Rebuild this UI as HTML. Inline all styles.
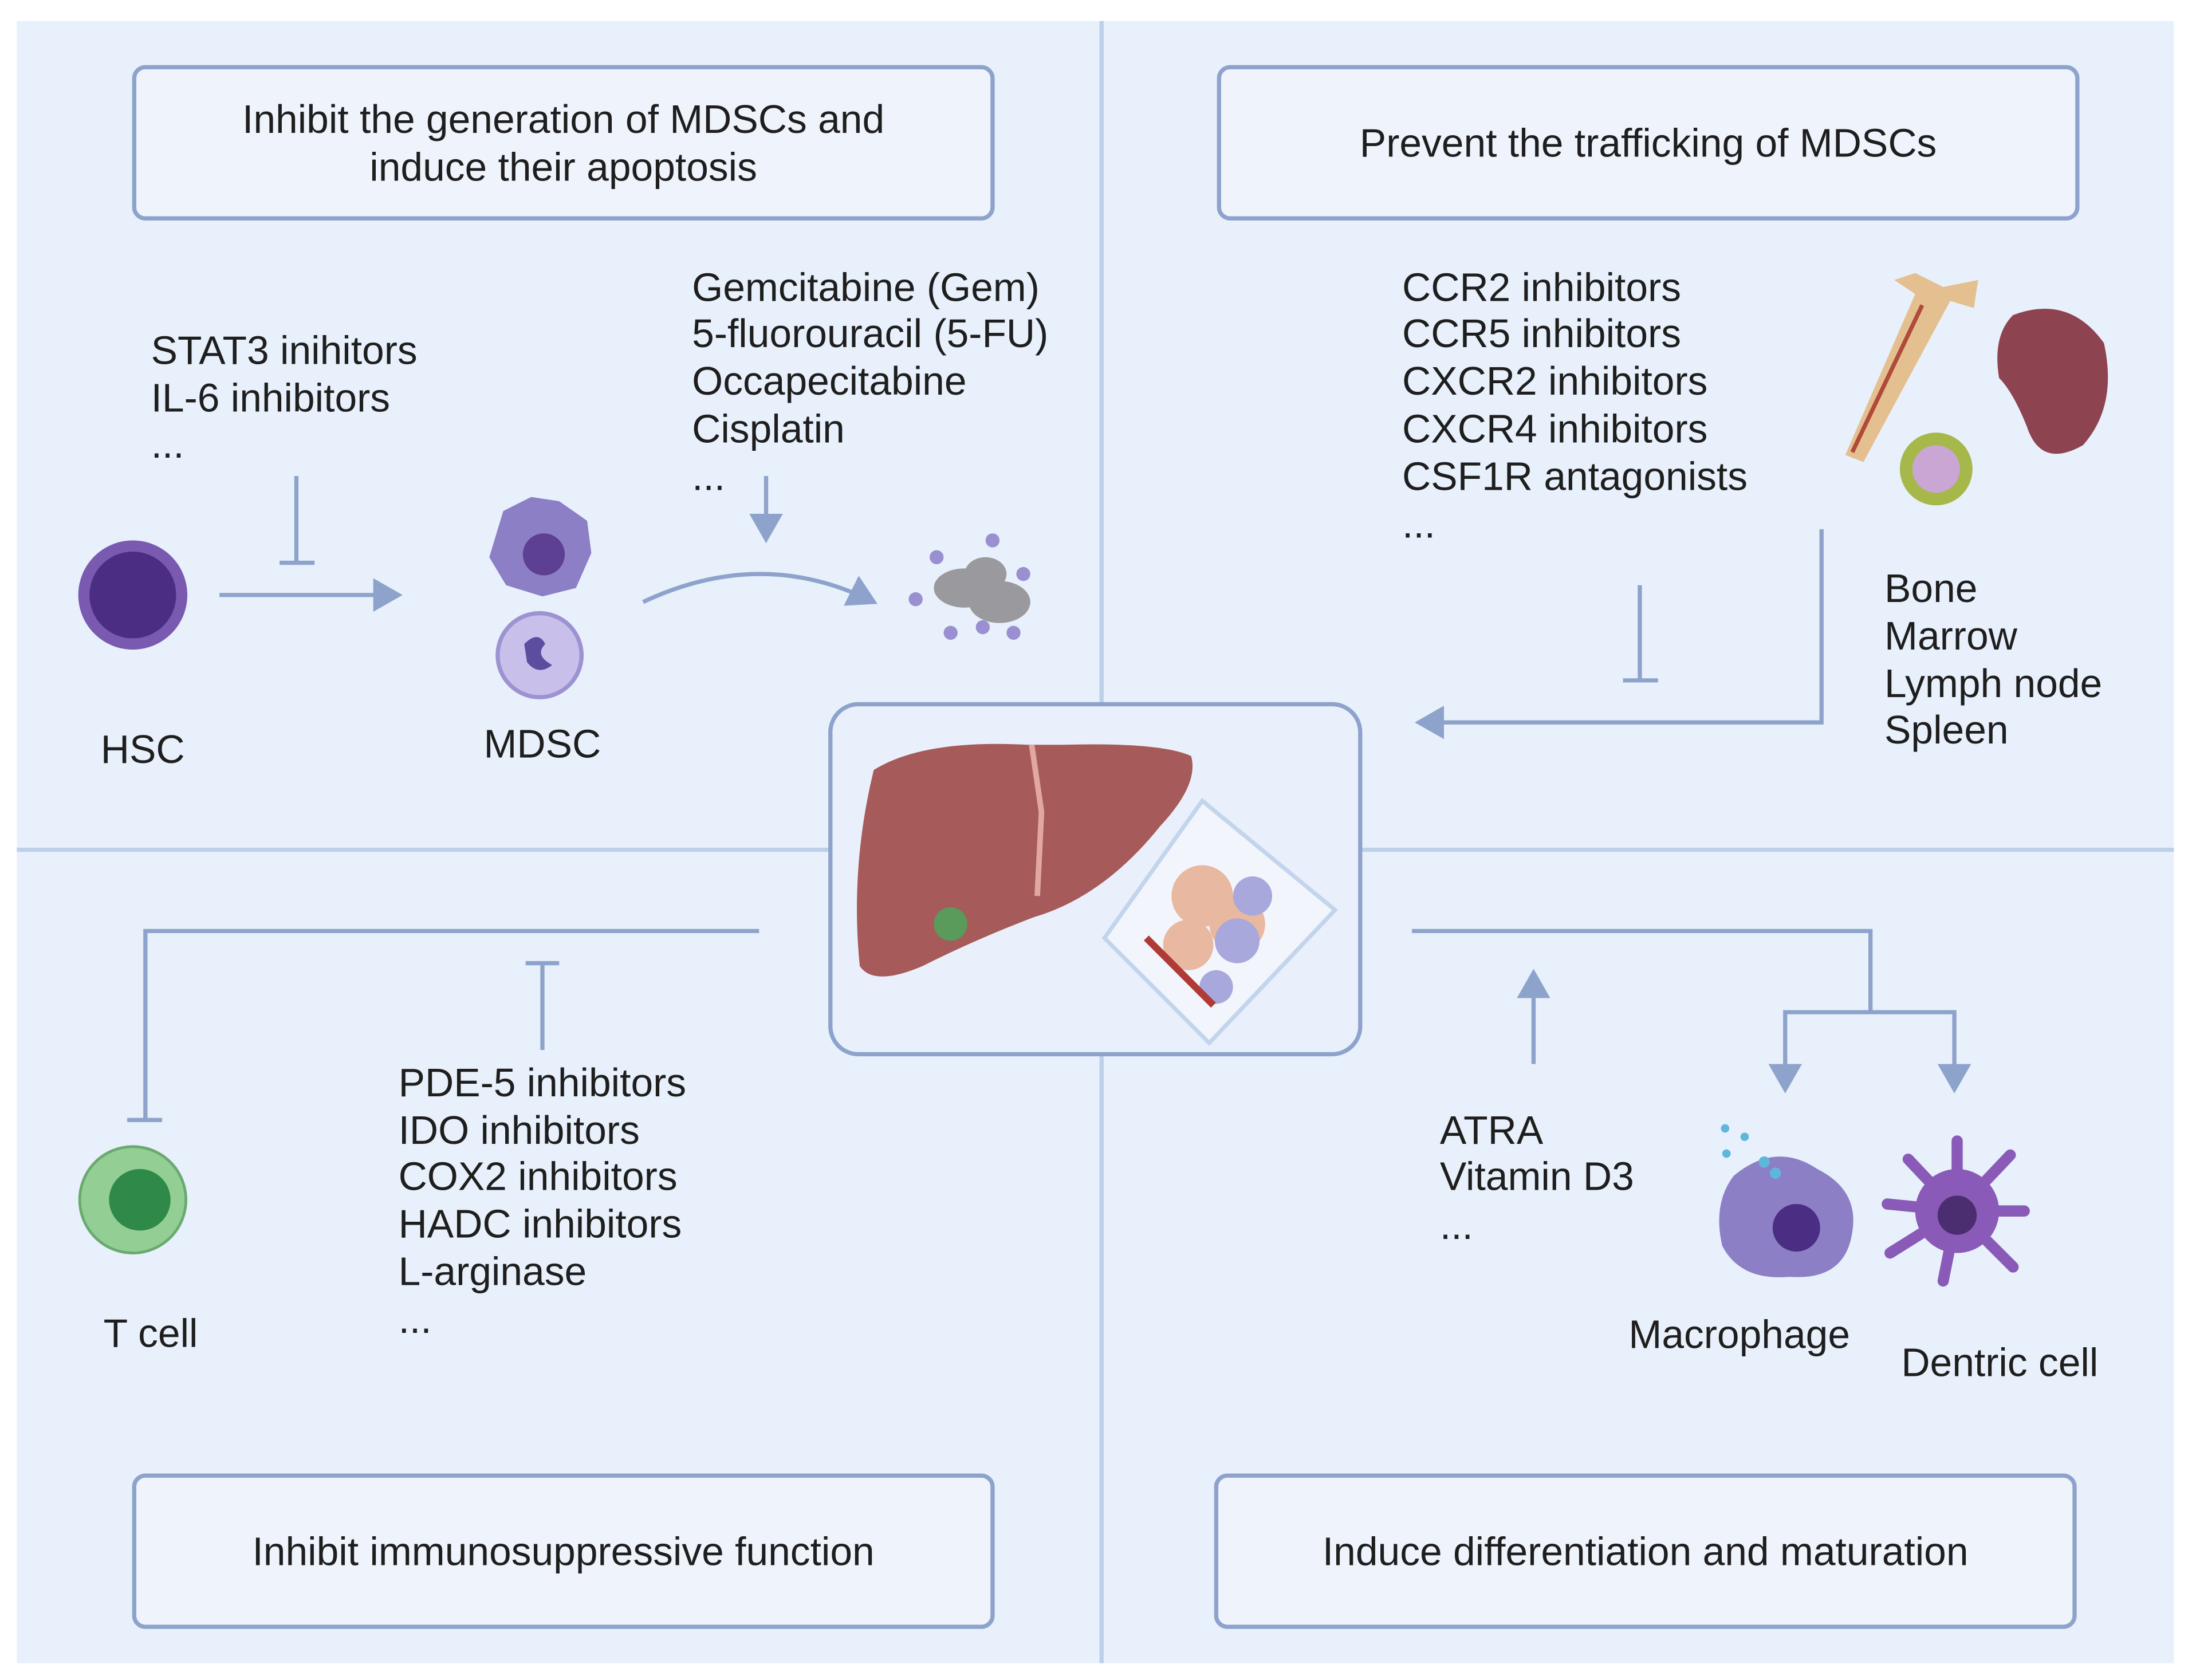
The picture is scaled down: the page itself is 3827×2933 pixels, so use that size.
<!DOCTYPE html>
<html><head><meta charset="utf-8"><style>
html,body{margin:0;padding:0;background:#fff}
svg{display:block}
text{font-family:"Liberation Sans",sans-serif;fill:#1e1e1e;font-size:28.5px}
</style></head><body>
<svg width="3827" height="2933" viewBox="0 0 1568 1200" preserveAspectRatio="none" xmlns="http://www.w3.org/2000/svg">
<defs>
<marker id="ah" markerWidth="8" markerHeight="8" refX="6" refY="4" orient="auto" markerUnits="strokeWidth"><path d="M0,0 L7,4 L0,8 Z" fill="#8ea3cb"/></marker>
</defs>
<rect x="0" y="0" width="1568" height="1200" fill="#fff"/>
<rect x="12" y="15" width="1543" height="1173" fill="#e8f0fb"/>
<g stroke="#bcd0ea" stroke-width="3">
<line x1="788" y1="15" x2="788" y2="1188"/>
<line x1="12" y1="607" x2="1555" y2="607"/>
</g>
<g fill="#eef3fc" stroke="#8ea3cb" stroke-width="3">
<rect x="96" y="48" width="614" height="108" rx="8"/>
<rect x="872" y="48" width="614" height="108" rx="8"/>
<rect x="96" y="1054" width="614" height="108" rx="8"/>
<rect x="870" y="1054" width="614" height="108" rx="8"/>
<rect x="594" y="503" width="379" height="250" rx="20" fill="#e9f0fb"/>
</g>
<text x="403" y="95" text-anchor="middle">Inhibit the generation of MDSCs and</text>
<text x="403" y="129" text-anchor="middle">induce their apoptosis</text>
<text x="1179" y="112" text-anchor="middle">Prevent the trafficking of MDSCs</text>
<text x="403" y="1118" text-anchor="middle">Inhibit immunosuppressive function</text>
<text x="1177" y="1118" text-anchor="middle">Induce differentiation and maturation</text>

<text x="108" y="260">STAT3 inihitors</text>
<text x="108" y="294">IL-6 inhibitors</text>
<text x="108" y="327">...</text>
<text x="495" y="215">Gemcitabine (Gem)</text>
<text x="495" y="248">5-fluorouracil (5-FU)</text>
<text x="495" y="282">Occapecitabine</text>
<text x="495" y="316">Cisplatin</text>
<text x="495" y="350">...</text>
<text x="72" y="545">HSC</text>
<text x="346" y="541">MDSC</text>

<text x="1003" y="215">CCR2 inhibitors</text>
<text x="1003" y="248">CCR5 inhibitors</text>
<text x="1003" y="282">CXCR2 inhibitors</text>
<text x="1003" y="316">CXCR4 inhibitors</text>
<text x="1003" y="350">CSF1R antagonists</text>
<text x="1003" y="384">...</text>
<text x="1348" y="430">Bone</text>
<text x="1348" y="464">Marrow</text>
<text x="1348" y="498">Lymph  node</text>
<text x="1348" y="531">Spleen</text>

<text x="285" y="783">PDE-5 inhibitors</text>
<text x="285" y="817">IDO inhibitors</text>
<text x="285" y="850">COX2 inhibitors</text>
<text x="285" y="884">HADC inhibitors</text>
<text x="285" y="918">L-arginase</text>
<text x="285" y="952">...</text>
<text x="74" y="962">T cell</text>

<text x="1030" y="817">ATRA</text>
<text x="1030" y="850">Vitamin D3</text>
<text x="1030" y="885">...</text>
<text x="1165" y="963">Macrophage</text>
<text x="1360" y="983">Dentric cell</text>

<g stroke="#8ea3cb" stroke-width="3" fill="none">
<line x1="212" y1="340" x2="212" y2="402"/><line x1="200" y1="402" x2="225" y2="402"/>
<line x1="157" y1="425" x2="285" y2="425" marker-end="url(#ah)"/>
<line x1="548" y1="340" x2="548" y2="385" marker-end="url(#ah)"/>
<path d="M460,430 Q545,390 625,430" marker-end="url(#ah)"/>
<line x1="1173" y1="418" x2="1173" y2="486"/><line x1="1161" y1="486" x2="1186" y2="486"/>
<polyline points="1303,378 1303,516 1015,516" marker-end="url(#ah)"/>
<polyline points="543,665 104,665 104,800"/><line x1="91" y1="800" x2="116" y2="800"/>
<line x1="388" y1="688" x2="388" y2="750"/><line x1="376" y1="688" x2="400" y2="688"/>
<line x1="1097" y1="760" x2="1097" y2="695" marker-end="url(#ah)"/>
<polyline points="1010,665 1338,665 1338,723"/>
<polyline points="1277,778 1277,723 1398,723 1398,778"/>
<line x1="1277" y1="760" x2="1277" y2="778" marker-end="url(#ah)"/>
<line x1="1398" y1="760" x2="1398" y2="778" marker-end="url(#ah)"/>
</g>

<circle cx="95" cy="425" r="39" fill="#7a5ab0"/><circle cx="95" cy="425" r="31" fill="#4b2e84"/>
<path d="M360,365 L380,355 L400,358 L420,372 L423,395 L412,420 L388,426 L362,418 L350,398 Z" fill="#8d7fc6"/>
<circle cx="389" cy="396" r="15" fill="#5d3f93"/>
<circle cx="386" cy="468" r="30" fill="#c8c0ea" stroke="#9d92d2" stroke-width="3"/>
<path d="M375,460 q10,-10 15,0 q-8,8 5,15 q-10,8 -18,-2 z" fill="#5d4d9e"/>
<g fill="#9a9a9e"><ellipse cx="690" cy="420" rx="22" ry="14"/><ellipse cx="715" cy="430" rx="22" ry="15"/><ellipse cx="705" cy="410" rx="15" ry="12"/></g>
<g fill="#9a8fd0"><circle cx="670" cy="398" r="5"/><circle cx="710" cy="386" r="5"/><circle cx="732" cy="410" r="5"/><circle cx="655" cy="428" r="5"/><circle cx="680" cy="452" r="5"/><circle cx="703" cy="448" r="5"/><circle cx="725" cy="452" r="5"/></g>
<path d="M1320,325 L1370,210 L1355,200 L1370,195 L1390,205 L1415,200 L1412,220 L1395,215 L1333,330 Z" fill="#e4c090"/>
<line x1="1325" y1="323" x2="1375" y2="218" stroke="#b04a3a" stroke-width="3"/>
<path d="M1440,225 Q1480,210 1505,245 Q1515,290 1490,318 Q1460,335 1450,305 Q1440,280 1430,270 Q1425,240 1440,225 Z" fill="#8e4450"/>
<circle cx="1385" cy="335" r="26" fill="#a6b84a"/><circle cx="1385" cy="335" r="17" fill="#c9a6d4"/>
<path d="M625,550 Q660,528 735,532 L760,532 Q830,530 852,540 Q858,560 830,590 Q790,640 740,655 Q700,670 660,690 Q625,705 615,690 Q608,620 625,550 Z" fill="#a65a5a"/>
<path d="M738,532 L745,580 L742,640" stroke="#e0a8a0" stroke-width="4" fill="none"/>
<circle cx="680" cy="660" r="12" fill="#5a9a5a"/>
<polygon points="860,572 955,650 865,745 790,670" fill="#f2f6fc" stroke="#c3d5ec" stroke-width="3"/>
<g fill="#e8b8a0"><circle cx="860" cy="640" r="22"/><circle cx="885" cy="660" r="20"/><circle cx="850" cy="675" r="18"/></g>
<g fill="#a8a8dc"><circle cx="885" cy="672" r="16"/><circle cx="896" cy="640" r="14"/><circle cx="870" cy="705" r="12"/></g>
<line x1="820" y1="670" x2="868" y2="718" stroke="#b03a36" stroke-width="5"/>
<circle cx="95" cy="857" r="38" fill="#93cf94" stroke="#6aaa70" stroke-width="2"/><circle cx="100" cy="857" r="22" fill="#2f8a4a"/>
<path d="M1240,840 Q1270,815 1300,835 Q1330,850 1325,880 Q1320,915 1280,912 Q1245,915 1232,890 Q1225,860 1240,840 Z" fill="#8d7fc6"/>
<circle cx="1285" cy="877" r="17" fill="#4b2e84"/>
<g fill="#5fb6dc"><circle cx="1234" cy="806" r="3"/><circle cx="1248" cy="812" r="3"/><circle cx="1262" cy="830" r="4"/><circle cx="1270" cy="838" r="4"/><circle cx="1235" cy="824" r="3"/></g>
<g stroke="#8a5ab8" stroke-width="8" stroke-linecap="round">
<line x1="1400" y1="865" x2="1365" y2="828"/><line x1="1400" y1="865" x2="1400" y2="815"/><line x1="1400" y1="865" x2="1438" y2="825"/><line x1="1400" y1="865" x2="1448" y2="865"/><line x1="1400" y1="865" x2="1440" y2="905"/><line x1="1400" y1="865" x2="1390" y2="915"/><line x1="1400" y1="865" x2="1352" y2="895"/><line x1="1400" y1="865" x2="1350" y2="860"/>
</g>
<circle cx="1400" cy="865" r="30" fill="#8a5ab8"/><circle cx="1400" cy="868" r="14" fill="#4b2e70"/>
</svg>
</body></html>
